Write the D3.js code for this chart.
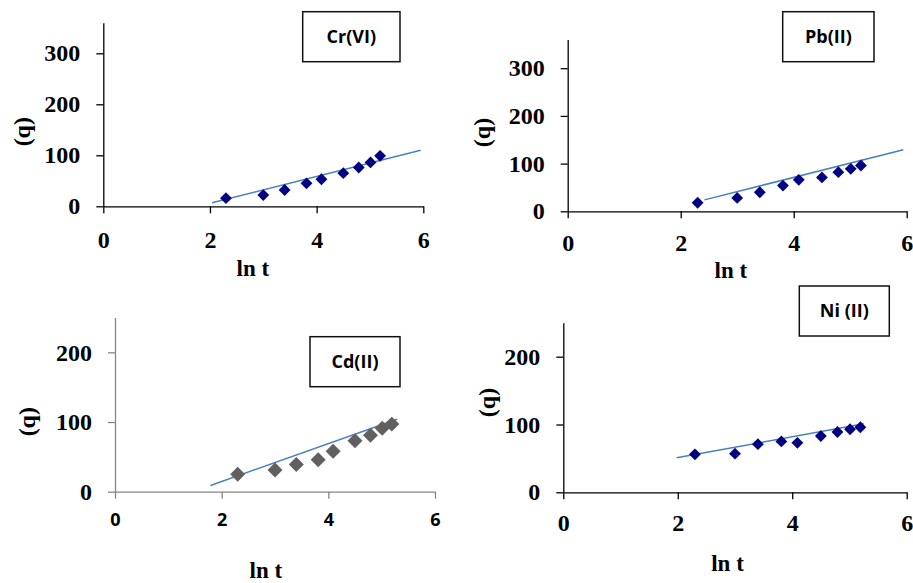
<!DOCTYPE html>
<html>
<head>
<meta charset="utf-8">
<script src="https://cdn.jsdelivr.net/npm/d3@7"></script>
<style>
  html, body { margin: 0; padding: 0; background: #fff; }
  svg { display: block; }
</style>
</head>
<body>
<svg id="chart" width="913" height="583"></svg>
<script>
// ---------------- DATA ----------------
const lnT = [2.30, 3.00, 3.40, 3.81, 4.09, 4.50, 4.79, 5.01, 5.19];
const qCr = [16, 22, 32, 45, 53, 65, 76, 86, 99];
const qPb = [18, 28, 40, 54, 66, 71, 82, 89, 96];
const qCd = [25, 31, 39, 46, 58, 73, 81, 91, 97];
const qNi = [56, 57, 71, 75, 73, 83, 89, 93, 96];
const trendCrX = [2.04, 5.95], trendCrY = [7, 110];
const trendPbX = [2.42, 5.94], trendPbY = [24, 129];
const trendCdX = [1.79, 5.29], trendCdY = [9, 104];
const trendNiX = [1.98, 5.25], trendNiY = [51, 101];
const xTicks = [0, 2, 4, 6];
const yTicksTop = [0, 100, 200, 300];
const yTicksBottom = [0, 100, 200];
const titles = ["Cr(VI)", "Pb(II)", "Cd(II)", "Ni (II)"];
const xLabel = "ln t";
const yLabel = "(q)";

// ---------------- LAYOUT ----------------
const panels = [
  { title: titles[0], q: qCr, tx: trendCrX, ty: trendCrY, yMax: 360, yTicks: yTicksTop,
    xr: [103.3, 423.3], yr: [206.3, 22.7], xLabOff: 33.7,
    box: [302.7, 11.7, 97.3, 50], xl: [252.8, 276], ql: [21.7, 131.7],
    axisColor: "#000", marker: "#000080", mSize: 70, xFont: "serif" },
  { title: titles[1], q: qPb, tx: trendPbX, ty: trendPbY, yMax: 360, yTicks: yTicksTop,
    xr: [567.7, 906.7], yr: [211.3, 39.6], xLabOff: 31.7,
    box: [782.7, 11.7, 91.3, 50], xl: [730.8, 278], ql: [481.7, 132.5],
    axisColor: "#000", marker: "#000080", mSize: 70, xFont: "serif" },
  { title: titles[2], q: qCd, tx: trendCdX, ty: trendCdY, yMax: 250, yTicks: yTicksBottom,
    xr: [115, 435], yr: [491.7, 317.5], xLabOff: 28.3,
    box: [310, 336.7, 90, 50], xl: [265.8, 578], ql: [26.7, 421.7],
    axisColor: "#868686", marker: "#606060", mSize: 112, xFont: "sans" },
  { title: titles[3], q: qNi, tx: trendNiX, ty: trendNiY, yMax: 250, yTicks: yTicksBottom,
    xr: [563.3, 906.7], yr: [492.3, 322.8], xLabOff: 30.7,
    box: [799.3, 286, 90, 50], xl: [727.5, 571], ql: [486.7, 402.5],
    axisColor: "#000", marker: "#000080", mSize: 70, xFont: "serif" }
];

const serif = "'Liberation Serif', 'Times New Roman', serif";
const sans = "'Liberation Sans', Arial, sans-serif";
const svg = d3.select("#chart");

panels.forEach(p => {
  const g = svg.append("g");
  const x = d3.scaleLinear().domain([0, 6]).range(p.xr);
  const y = d3.scaleLinear().domain([0, p.yMax]).range(p.yr);

  // Y axis
  const ya = g.append("g")
    .attr("transform", `translate(${p.xr[0]},0)`)
    .call(d3.axisLeft(y).tickValues(p.yTicks).tickFormat(d3.format("d"))
      .tickSize(7).tickSizeOuter(0).tickPadding(16));
  ya.select(".domain").attr("stroke", p.axisColor).attr("stroke-width", 1.3);
  ya.selectAll(".tick line").attr("stroke", p.axisColor).attr("stroke-width", 1.3);
  ya.selectAll(".tick text")
    .attr("fill", "#000")
    .style("font-family", serif).style("font-weight", "bold").style("font-size", "24px");

  // X axis
  const xa = g.append("g")
    .attr("transform", `translate(0,${p.yr[0]})`)
    .call(d3.axisBottom(x).tickValues(xTicks).tickFormat(d3.format("d"))
      .tickSize(7).tickSizeOuter(0));
  xa.select(".domain").attr("stroke", p.axisColor).attr("stroke-width", 1.3);
  xa.selectAll(".tick line").attr("stroke", p.axisColor).attr("stroke-width", 1.3);
  const xt = xa.selectAll(".tick text")
    .attr("fill", "#000")
    .attr("y", p.xLabOff).attr("dy", "0.35em")
    .style("font-weight", "bold");
  if (p.xFont === "serif") {
    xt.style("font-family", serif).style("font-size", "24px");
  } else {
    xt.style("font-family", "'Open Sans', " + sans).style("font-size", "18px");
  }

  // Trend line
  const tdata = p.tx.map((v, i) => [v, p.ty[i]]);
  g.append("path")
    .datum(tdata)
    .attr("d", d3.line().x(d => x(d[0])).y(d => y(d[1])))
    .attr("fill", "none")
    .attr("stroke", "#4a7fc0")
    .attr("stroke-width", 1.5);

  // Markers (diamonds = rotated squares)
  const sym = d3.symbol().type(d3.symbolSquare).size(p.mSize);
  g.selectAll("path.pt")
    .data(lnT.map((v, i) => [v, p.q[i]]))
    .join("path")
    .attr("class", "pt")
    .attr("d", sym)
    .attr("transform", d => `translate(${x(d[0])},${y(d[1])}) rotate(45)`)
    .attr("fill", p.marker);

  // Axis titles
  g.append("text")
    .attr("x", p.xl[0]).attr("y", p.xl[1])
    .attr("text-anchor", "middle")
    .style("font-family", serif).style("font-weight", "bold").style("font-size", "23px")
    .text(xLabel);
  g.append("text")
    .attr("transform", `translate(${p.ql[0]},${p.ql[1]}) rotate(-90)`)
    .attr("text-anchor", "middle").attr("dy", "0.35em")
    .style("font-family", serif).style("font-weight", "bold").style("font-size", "24px")
    .text(yLabel);

  // Title box
  g.append("rect")
    .attr("x", p.box[0]).attr("y", p.box[1])
    .attr("width", p.box[2]).attr("height", p.box[3])
    .attr("fill", "#fff").attr("stroke", "#111").attr("stroke-width", 1.5);
  g.append("text")
    .attr("x", p.box[0] + p.box[2] / 2).attr("y", p.box[1] + p.box[3] / 2)
    .attr("text-anchor", "middle").attr("dy", "0.35em")
    .style("font-family", "'Open Sans', " + sans).style("font-weight", "bold").style("font-size", "18px")
    .text(p.title);
});
</script>
</body>
</html>
